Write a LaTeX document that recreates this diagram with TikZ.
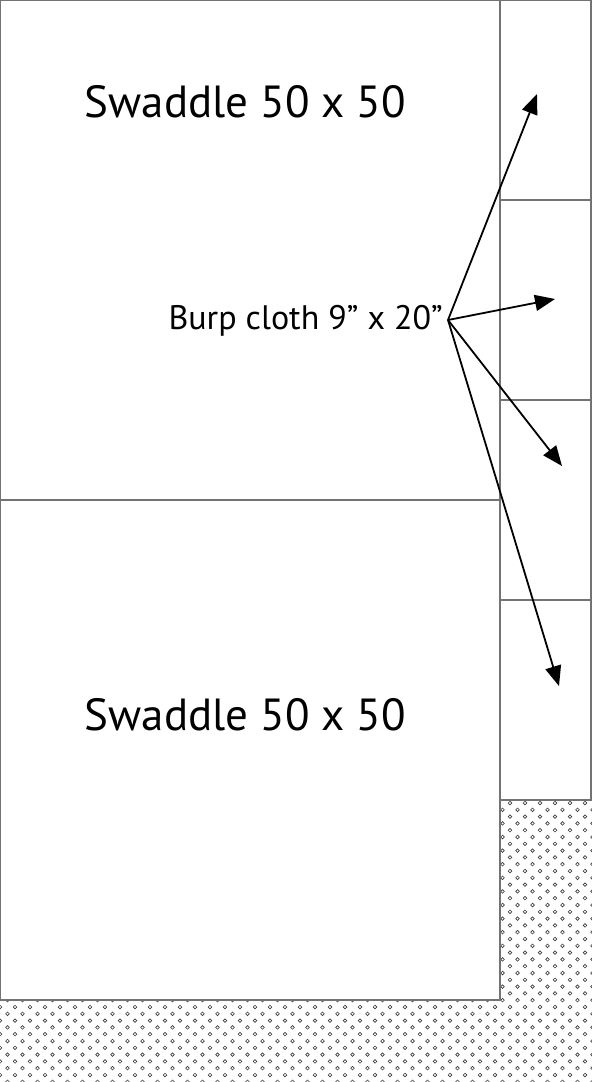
\documentclass[tikz,border=0pt]{standalone}
\usepackage{fontspec}
\setmainfont{PT Sans}
\usetikzlibrary{arrows.meta,positioning}
\begin{document}
\begin{tikzpicture}[x=1pt,y=-1pt,
    sheet/.style = {draw=black!55, line width=1.3pt, inner sep=0pt},
    pointer/.style = {-{Triangle[length=20pt,width=16pt]}, line width=1.8pt}]
  \useasboundingbox (0,0) rectangle (592,1082);
  % fabric left over
  \begin{scope}
    \clip (500,800) -| (592,1082) -| (0,1000) -| cycle;
    \foreach \r in {0,...,41} {
      \pgfmathsetmacro\yy{803+6.8*\r}
      \pgfmathsetmacro\off{mod(\r,2)*7.5}
      \foreach \c in {0,...,40}
        \draw[black!75, line width=0.65pt] (\off+15*\c,\yy) circle (1.8);
    }
  \end{scope}
  % swaddles
  \node[sheet, minimum width=500pt, minimum height=500pt] (sw1) at (250,250) {};
  \node[sheet, minimum width=500pt, minimum height=500pt] (sw2) at (250,750) {};
  \node[font=\fontsize{45}{50}\selectfont] (t1) at (245.5,102) {Swaddle 50 x 50};
  \node[font=\fontsize{45}{50}\selectfont] (t2) at (245.5,715) {Swaddle 50 x 50};
  % burp cloths
  \foreach \i in {1,...,4}
    \node[sheet, minimum width=91pt, minimum height=200pt] (c\i) at (545.5,200*\i-100) {};
  \node[font=\fontsize{34}{38}\selectfont, inner sep=0pt, anchor=east] (burp) at (443,321) {Burp cloth 9” x 20”};
  \coordinate (hub) at (448,320);
  \coordinate (p1) at (537,94);
  \coordinate (p2) at (555,299);
  \coordinate (p3) at (562,466);
  \coordinate (p4) at (559,686);
  \foreach \i in {1,...,4}
    \draw[pointer] (hub) -- (p\i);
\end{tikzpicture}
\end{document}
